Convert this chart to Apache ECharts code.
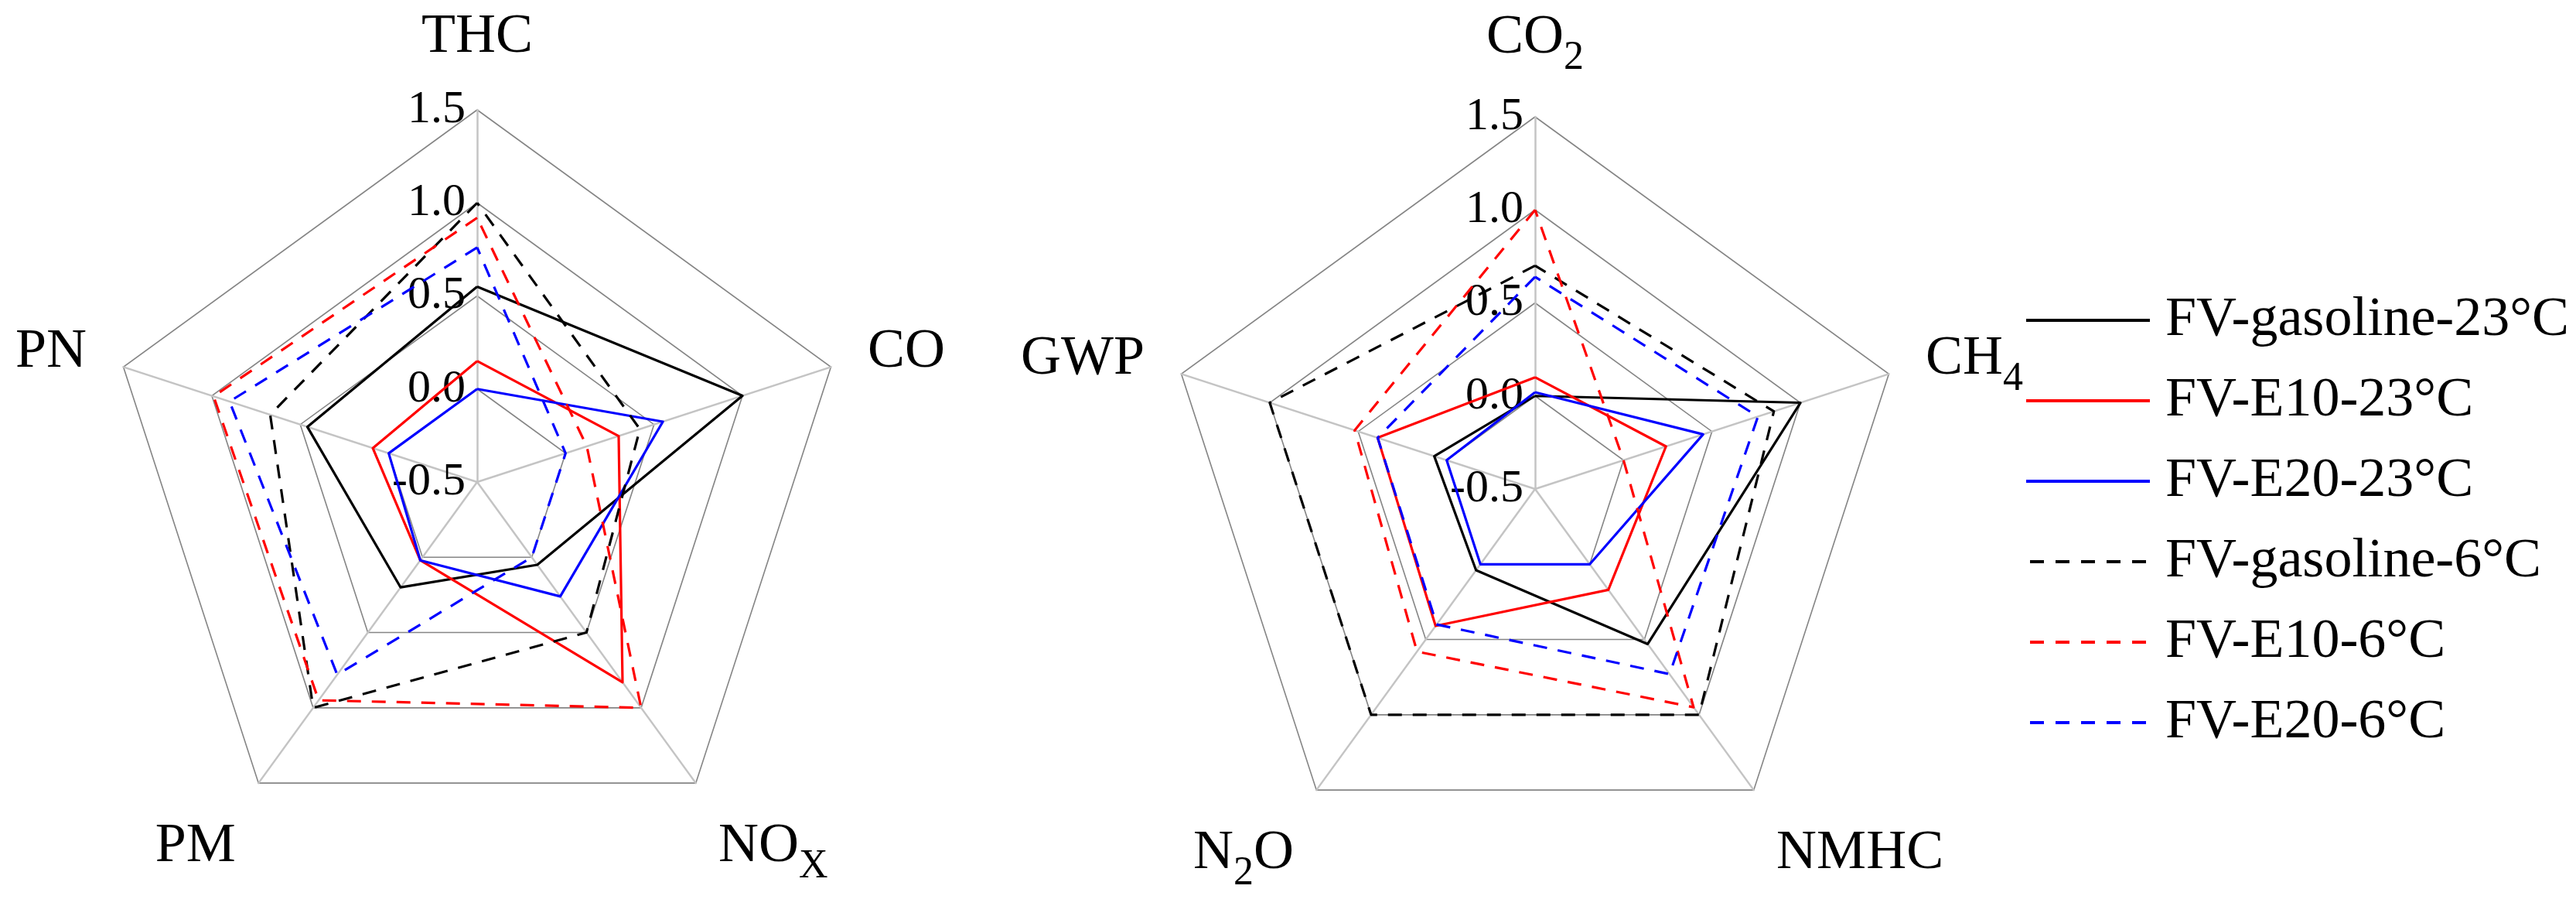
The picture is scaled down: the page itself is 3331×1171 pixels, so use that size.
<!DOCTYPE html>
<html><head><meta charset="utf-8">
<script src="https://cdn.jsdelivr.net/npm/echarts@6/dist/echarts.min.js"></script>
<style>html,body{margin:0;padding:0;background:#fff}#c{width:3331px;height:1171px}</style>
</head><body><div id="c"></div>
<script>
// ---- data (clockwise from top) ----
const leftCategories  = ['THC', 'CO', 'NOx', 'PM', 'PN'];
const rightCategories = ['CO2', 'CH4', 'NMHC', 'N2O', 'GWP'];
const seriesNames = ['FV-gasoline-23°C', 'FV-E10-23°C', 'FV-E20-23°C',
                     'FV-gasoline-6°C', 'FV-E10-6°C', 'FV-E20-6°C'];
const axisMin = -0.5, axisMax = 1.5, axisInterval = 0.5;
const tickLabels = ['-0.5', '0.0', '0.5', '1.0', '1.5'];

const leftGasoline23 = [0.55, 1.00, 0.05, 0.20, 0.46];
const leftE10_23     = [0.15, 0.30, 0.83, 0.02, 0.09];
const leftE20_23     = [0.00, 0.55, 0.26, 0.02, 0.00];
const leftGasoline6  = [1.00, 0.42, 0.50, 1.00, 0.67];
const leftE10_6      = [0.92, 0.12, 1.00, 0.95, 0.99];
const leftE20_6      = [0.76, 0.00, 0.00, 0.78, 0.90];

const rightGasoline23 = [0.00, 1.00, 0.53, 0.04, 0.07];
const rightE10_23     = [0.10, 0.24, 0.17, 0.41, 0.39];
const rightE20_23     = [0.02, 0.45, 0.00, 0.00, 0.00];
const rightGasoline6  = [0.70, 0.85, 1.00, 1.00, 1.00];
const rightE10_6      = [1.00, 0.00, 0.95, 0.58, 0.52];
const rightE20_6      = [0.64, 0.76, 0.73, 0.40, 0.39];

const leftData  = [leftGasoline23, leftE10_23, leftE20_23, leftGasoline6, leftE10_6, leftE20_6];
const rightData = [rightGasoline23, rightE10_23, rightE20_23, rightGasoline6, rightE10_6, rightE20_6];

// ---- styles ----
const colors = ['#000000', '#ff0000', '#0000ff', '#000000', '#ff0000', '#0000ff'];
const dashed = [false, false, false, true, true, true];
const FONT = '"Liberation Serif", "Times New Roman", serif';

// echarts radar goes counter-clockwise: reorder clockwise lists
const ORDER = [0, 4, 3, 2, 1];
const reorder = arr => ORDER.map(k => arr[k]);

const subs = { 'NOx': ['NO', 'X', ''], 'CO2': ['CO', '2', ''], 'CH4': ['CH', '4', ''], 'N2O': ['N', '2', 'O'] };
const lowerNames = [leftCategories[2], leftCategories[3], rightCategories[2], rightCategories[3]];
function fmtName(n) {
  const low = lowerNames.indexOf(n) >= 0;
  const m = low ? 'mb' : 'm', s = low ? 'sb' : 's';
  const sub = subs[n];
  if (!sub) return '{' + m + '|' + n + '}';
  return '{' + m + '|' + sub[0] + '}{' + s + '|' + sub[1] + '}' + (sub[2] ? '{' + m + '|' + sub[2] + '}' : '');
}

function makeRadar(cats, center) {
  return {
    center: center, radius: 481, startAngle: 90, shape: 'polygon', splitNumber: 4,
    indicator: ORDER.map((k, j) => {
      const o = { name: cats[k], min: axisMin, max: axisMax };
      if (j === 0 && subs[cats[k]]) o.nameGap = 58;
      if (j === 0) o.axisLabel = { show: true };
      return o;
    }),
    axisNameGap: 50,
    axisName: {
      color: '#000', fontFamily: FONT, fontSize: 72,
      formatter: n => fmtName(n),
      rich: {
        m:  { fontFamily: FONT, fontSize: 72, color: '#000', lineHeight: 80, verticalAlign: 'top' },
        s:  { fontFamily: FONT, fontSize: 52, color: '#000', lineHeight: 56, verticalAlign: 'top', padding: [36, 0, 0, 0] },
        mb: { fontFamily: FONT, fontSize: 72, color: '#000', lineHeight: 80, verticalAlign: 'top', padding: [46, 0, 0, 0] },
        sb: { fontFamily: FONT, fontSize: 52, color: '#000', lineHeight: 56, verticalAlign: 'top', padding: [82, 0, 0, 0] }
      }
    },
    axisLine: { show: true, lineStyle: { color: '#c4c4c4', width: 2.5 } },
    splitLine: { show: true, lineStyle: { color: '#858585', width: 1.6 } },
    splitArea: { show: false },
    axisTick: { show: false },
    axisLabel: {
      show: false, color: '#000', fontFamily: FONT, fontSize: 60, margin: 15,
      formatter: v => tickLabels[Math.round((v - axisMin) / axisInterval)]
    }
  };
}

function makeSeries(dataSets, idx) {
  return {
    type: 'radar', radarIndex: idx, symbol: 'none', silent: true,
    data: seriesNames.map((n, i) => ({
      name: n,
      value: reorder(dataSets[i]),
      itemStyle: { color: colors[i] },
      lineStyle: { color: colors[i], width: 3.2, type: dashed[i] ? [18, 14] : 'solid' }
    }))
  };
}

const solidIcon = 'path://M0,0H160V4H0Z';
const dashIcon = 'path://M0,0H18V4H0Z M33,0H51V4H33Z M66,0H84V4H66Z M99,0H117V4H99Z M132,0H150V4H132Z';

const chart = echarts.init(document.getElementById('c'), null, { renderer: 'canvas' });
chart.setOption({
  backgroundColor: '#ffffff',
  animation: false,
  radar: [makeRadar(leftCategories, [617, 623]), makeRadar(rightCategories, [1985, 632])],
  legend: {
    orient: 'vertical', left: 2615, top: 369,
    itemWidth: 160, itemHeight: 4, itemGap: 24,
    selectedMode: false,
    textStyle: { fontFamily: FONT, fontSize: 72, color: '#000', lineHeight: 80, padding: [0, 0, 0, 15] },
    data: seriesNames.map((n, i) => ({ name: n, icon: dashed[i] ? dashIcon : solidIcon }))
  },
  series: [makeSeries(leftData, 0), makeSeries(rightData, 1)]
});
</script>
</body></html>
